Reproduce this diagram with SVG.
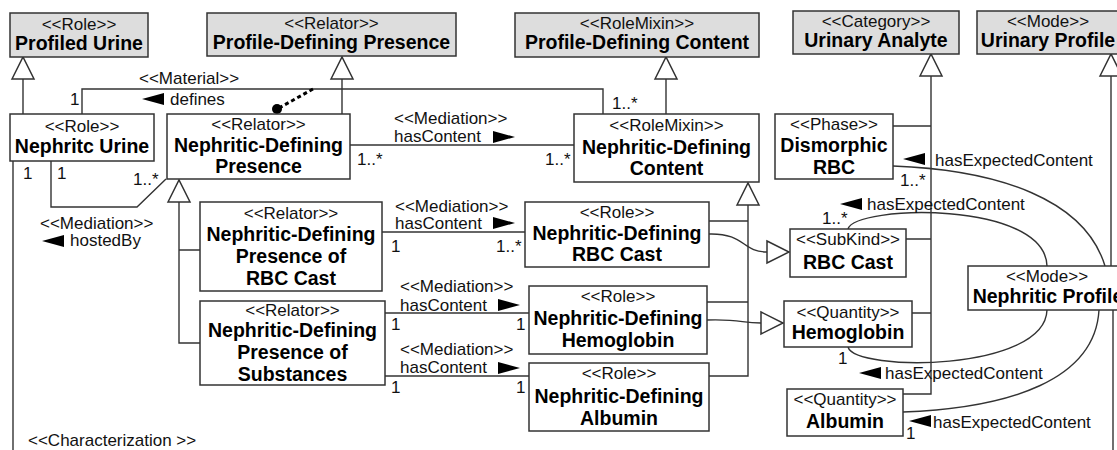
<svg xmlns="http://www.w3.org/2000/svg" xmlns:xlink="http://www.w3.org/1999/xlink" width="1117" height="450" viewBox="0 0 1117 450">
<style>
.box{fill:#fff;stroke:#333;stroke-width:1.5}
.gray{fill:#dddddd;stroke:#333;stroke-width:1.5}
.st{font-family:"Liberation Sans",Arial,sans-serif;font-size:17px;fill:#111;text-anchor:middle}
.nm{font-family:"Liberation Sans",Arial,sans-serif;font-size:19.5px;font-weight:bold;fill:#000;text-anchor:middle}
.lb{font-family:"Liberation Sans",Arial,sans-serif;font-size:17px;fill:#111}
.ln{fill:none;stroke:#333;stroke-width:1.4}
.gen{fill:none;stroke:#333;stroke-width:1.4;marker-end:url(#gen)}
.dot{fill:none;stroke:#000;stroke-width:3;stroke-dasharray:4 3}
.dir{fill:#000}
</style>
<defs>
<marker id="gen" viewBox="0 0 22 22" refX="22" refY="11" markerWidth="22" markerHeight="22" markerUnits="userSpaceOnUse" orient="auto" overflow="visible">
<path d="M0,0 L22,11 L0,22 Z" fill="#fff" stroke="#333" stroke-width="1.5"/>
</marker>
<path id="triL" d="M0,0 L22,-6 L22,6 Z"/>
<path id="triR" d="M0,0 L-22,-6 L-22,6 Z"/>
</defs>

<g id="connectors">
<path class="gen" d="M23,114 V57"/>
<path class="gen" d="M342,114 V57"/>
<path class="gen" d="M666,114 V57"/>
<path class="gen" d="M893,126 H931 M906,239 H931 M912,313 H931 M903,394 H931 V54"/>
<path class="gen" d="M1111,266 V54"/>
<path class="gen" d="M200,250 H179 M200,343 H179 V180"/>
<path class="gen" d="M709,221 H748 M707,302 H748 M709,376 H748 V183"/>
<path class="gen" d="M709,234 C745,233 742,252 767,252 L789,252"/>
<path class="gen" d="M707,320 C742,319 740,323 761,323 L783,323"/>
<path class="ln" d="M82,114 V89 H603 V114"/>
<path class="dot" d="M313,89 L279,108"/>
<circle cx="277" cy="109" r="5" fill="#000"/>
<path class="ln" d="M350,145 H574"/>
<path class="ln" d="M51,161 V207 H137 L166,179"/>
<path class="ln" d="M382,232 H525"/>
<path class="ln" d="M385,313 H529"/>
<path class="ln" d="M385,376 H529"/>
<path class="ln" d="M13,161 V450"/>
<path class="ln" d="M1113,310 V450"/>
<path class="ln" d="M893,166 C1000,170 1085,200 1105,266"/>
<path class="ln" d="M848,229 C855,205 1045,200 1047,266"/>
<path class="ln" d="M848,347 C855,372 1045,372 1047,310"/>
<path class="ln" d="M903,412 C1010,408 1095,380 1099,310"/>
<g class="dir">
<use xlink:href="#triL" x="142" y="99"/>
<use xlink:href="#triL" x="42" y="241"/>
<use xlink:href="#triL" x="903" y="159"/>
<use xlink:href="#triL" x="840" y="204"/>
<use xlink:href="#triL" x="859" y="373"/>
<use xlink:href="#triL" x="909" y="421"/>
<use xlink:href="#triR" x="515" y="137"/>
<use xlink:href="#triR" x="515" y="223"/>
<use xlink:href="#triR" x="520" y="305"/>
<use xlink:href="#triR" x="520" y="368"/>
</g>
<g>
<text class="lb" x="139" y="84">&lt;&lt;Material&gt;&gt;</text>
<text class="lb" x="170" y="105">defines</text>
<text class="lb" x="70" y="105">1</text>
<text class="lb" x="612" y="109">1..*</text>
<text class="lb" x="394" y="124">&lt;&lt;Mediation&gt;&gt;</text>
<text class="lb" x="394" y="142">hasContent</text>
<text class="lb" x="357" y="165">1..*</text>
<text class="lb" x="545" y="165">1..*</text>
<text class="lb" x="23" y="179">1</text>
<text class="lb" x="57" y="179">1</text>
<text class="lb" x="133" y="185">1..*</text>
<text class="lb" x="40" y="229">&lt;&lt;Mediation&gt;&gt;</text>
<text class="lb" x="70" y="246">hostedBy</text>
<text class="lb" x="395" y="212">&lt;&lt;Mediation&gt;&gt;</text>
<text class="lb" x="395" y="229">hasContent</text>
<text class="lb" x="391" y="252">1</text>
<text class="lb" x="496" y="252">1..*</text>
<text class="lb" x="400" y="292">&lt;&lt;Mediation&gt;&gt;</text>
<text class="lb" x="400" y="311">hasContent</text>
<text class="lb" x="391" y="330">1</text>
<text class="lb" x="516" y="330">1</text>
<text class="lb" x="400" y="355">&lt;&lt;Mediation&gt;&gt;</text>
<text class="lb" x="400" y="373">hasContent</text>
<text class="lb" x="391" y="393">1</text>
<text class="lb" x="516" y="393">1</text>
<text class="lb" x="935" y="166">hasExpectedContent</text>
<text class="lb" x="900" y="186">1..*</text>
<text class="lb" x="867" y="210">hasExpectedContent</text>
<text class="lb" x="822" y="224">1..*</text>
<text class="lb" x="885" y="379">hasExpectedContent</text>
<text class="lb" x="838" y="364">1</text>
<text class="lb" x="933" y="428">hasExpectedContent</text>
<text class="lb" x="906" y="439">1</text>
<text class="lb" x="28" y="446">&lt;&lt;Characterization &gt;&gt;</text>
</g>
</g>

<g id="profiled-urine">
<rect class="gray" x="10" y="13" width="138" height="44"/>
<text class="st" x="79" y="30">&lt;&lt;Role&gt;&gt;</text>
<text class="nm" x="79" y="50">Profiled Urine</text>
</g>
<g id="profile-defining-presence">
<rect class="gray" x="207" y="13" width="249" height="43"/>
<text class="st" x="331.5" y="29">&lt;&lt;Relator&gt;&gt;</text>
<text class="nm" x="331.5" y="49">Profile-Defining Presence</text>
</g>
<g id="profile-defining-content">
<rect class="gray" x="515" y="13" width="244" height="44"/>
<text class="st" x="637" y="29">&lt;&lt;RoleMixin&gt;&gt;</text>
<text class="nm" x="637" y="49">Profile-Defining Content</text>
</g>
<g id="urinary-analyte">
<rect class="gray" x="793" y="11" width="166" height="43"/>
<text class="st" x="876" y="27">&lt;&lt;Category&gt;&gt;</text>
<text class="nm" x="876" y="47">Urinary Analyte</text>
</g>
<g id="urinary-profile">
<rect class="gray" x="977" y="11" width="145" height="43"/>
<text class="st" x="1048" y="27">&lt;&lt;Mode&gt;&gt;</text>
<text class="nm" x="1048" y="47">Urinary Profile</text>
</g>

<g id="nephritc-urine">
<rect class="box" x="10" y="114" width="144" height="47"/>
<text class="st" x="82" y="132">&lt;&lt;Role&gt;&gt;</text>
<text class="nm" x="82" y="153">Nephritc Urine</text>
</g>
<g id="nephritic-defining-presence">
<rect class="box" x="167" y="114" width="183" height="65"/>
<text class="st" x="258.5" y="130">&lt;&lt;Relator&gt;&gt;</text>
<text class="nm" x="258.5" y="152">Nephritic-Defining</text>
<text class="nm" x="258.5" y="173">Presence</text>
</g>
<g id="nephritic-defining-content">
<rect class="box" x="574" y="114" width="185" height="68"/>
<text class="st" x="666.5" y="131">&lt;&lt;RoleMixin&gt;&gt;</text>
<text class="nm" x="666.5" y="154">Nephritic-Defining</text>
<text class="nm" x="666.5" y="175">Content</text>
</g>
<g id="dismorphic-rbc">
<rect class="box" x="775" y="114" width="118" height="65"/>
<text class="st" x="834" y="130">&lt;&lt;Phase&gt;&gt;</text>
<text class="nm" x="834" y="152">Dismorphic</text>
<text class="nm" x="834" y="174">RBC</text>
</g>
<g id="nephritic-profile">
<rect class="box" x="968" y="266" width="160" height="44"/>
<text class="st" x="1047" y="282">&lt;&lt;Mode&gt;&gt;</text>
<text class="nm" x="1048" y="303">Nephritic Profile</text>
</g>

<g id="presence-rbc-cast">
<rect class="box" x="200" y="202" width="182" height="89"/>
<text class="st" x="291" y="219">&lt;&lt;Relator&gt;&gt;</text>
<text class="nm" x="291" y="241">Nephritic-Defining</text>
<text class="nm" x="291" y="263">Presence of</text>
<text class="nm" x="291" y="285">RBC Cast</text>
</g>
<g id="presence-substances">
<rect class="box" x="200" y="301" width="185" height="84"/>
<text class="st" x="292.5" y="316">&lt;&lt;Relator&gt;&gt;</text>
<text class="nm" x="292.5" y="337">Nephritic-Defining</text>
<text class="nm" x="292.5" y="359">Presence of</text>
<text class="nm" x="292.5" y="381">Substances</text>
</g>

<g id="role-rbc-cast">
<rect class="box" x="525" y="202" width="184" height="65"/>
<text class="st" x="617" y="218">&lt;&lt;Role&gt;&gt;</text>
<text class="nm" x="617" y="240">Nephritic-Defining</text>
<text class="nm" x="617" y="261">RBC Cast</text>
</g>
<g id="role-hemoglobin">
<rect class="box" x="529" y="286" width="178" height="68"/>
<text class="st" x="618" y="302">&lt;&lt;Role&gt;&gt;</text>
<text class="nm" x="618" y="325">Nephritic-Defining</text>
<text class="nm" x="618" y="347">Hemoglobin</text>
</g>
<g id="role-albumin">
<rect class="box" x="529" y="363" width="180" height="68"/>
<text class="st" x="619" y="379">&lt;&lt;Role&gt;&gt;</text>
<text class="nm" x="619" y="403">Nephritic-Defining</text>
<text class="nm" x="619" y="425">Albumin</text>
</g>

<g id="rbc-cast">
<rect class="box" x="790" y="229" width="116" height="48"/>
<text class="st" x="848" y="245">&lt;&lt;SubKind&gt;&gt;</text>
<text class="nm" x="848" y="269">RBC Cast</text>
</g>
<g id="hemoglobin">
<rect class="box" x="784" y="301" width="128" height="46"/>
<text class="st" x="848" y="318">&lt;&lt;Quantity&gt;&gt;</text>
<text class="nm" x="848" y="339">Hemoglobin</text>
</g>
<g id="albumin">
<rect class="box" x="787" y="389" width="116" height="47"/>
<text class="st" x="845" y="405">&lt;&lt;Quantity&gt;&gt;</text>
<text class="nm" x="845" y="428">Albumin</text>
</g>
</svg>
